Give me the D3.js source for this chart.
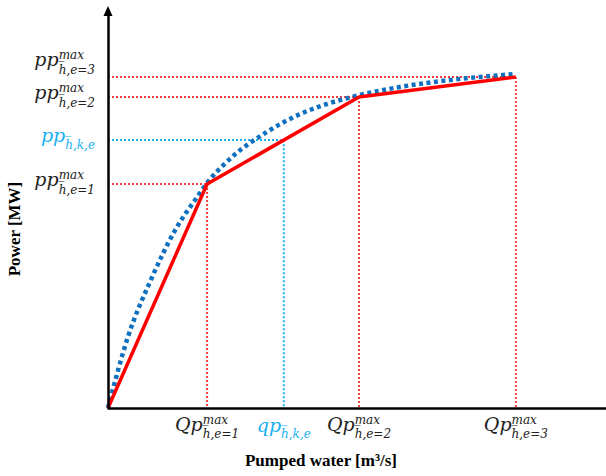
<!DOCTYPE html>
<html>
<head>
<meta charset="utf-8">
<script src="https://cdn.jsdelivr.net/npm/d3@7"></script>
<style>
  body { margin: 0; background: #fff; }
  svg { display: block; }
</style>
</head>
<body>
<div id="chart"></div>
<script>
// breakpoints of the piecewise linear approximation (percent of axis)
const breakQ = [19.9, 50.4, 81.9];
const breakP = [56.0, 77.75, 82.75];
const breakNames = ['e=1', 'e=2', 'e=3'];

const curveQ = [0, 4.0, 8.6, 13.5, 18.1, 19.9, 24.5, 31.9, 38.6, 44.6, 50.6, 58.6, 68.7, 81.9];
const curveP = [0, 17.75, 32.0, 44.5, 53.1, 56.25, 62.3, 69.0, 73.5, 76.25, 78.25, 80.25, 82.0, 83.5];

// operating point k
const opQ = 35.3;
const opP = 67.0;

const W = 606, H = 476;
const x = d3.scaleLinear().domain([0, 100]).range([108, 606]);
const y = d3.scaleLinear().domain([0, 100]).range([408, 8]);

const red = '#ff0000', redDot = '#ff3b3b', lightBlue = '#19b0f0', darkBlue = '#1070c0';
const mathFont = 'DejaVu Serif';

const svg = d3.select('#chart').append('svg')
  .attr('width', W).attr('height', H);

// guide lines
const guides = svg.append('g');
breakQ.forEach(function(q, i) {
  guides.append('line')
    .attr('x1', x(0)).attr('x2', x(q))
    .attr('y1', y(breakP[i])).attr('y2', y(breakP[i]));
  guides.append('line')
    .attr('x1', x(q)).attr('x2', x(q))
    .attr('y1', y(breakP[i])).attr('y2', y(0));
});
guides.selectAll('line')
  .attr('stroke', redDot).attr('stroke-width', 2)
  .attr('stroke-dasharray', '2,2');

svg.append('path')
  .attr('d', d3.line()([[x(0), y(opP)], [x(opQ), y(opP)], [x(opQ), y(0)]]))
  .attr('fill', 'none')
  .attr('stroke', lightBlue).attr('stroke-width', 2)
  .attr('stroke-dasharray', '2,2');

// curve
const curveData = curveQ.map(function(q, i) { return [q, curveP[i]]; });
svg.append('path')
  .datum(curveData)
  .attr('fill', 'none')
  .attr('stroke', darkBlue)
  .attr('stroke-width', 4.5)
  .attr('stroke-dasharray', '4,3.5')
  .attr('d', d3.line().x(function(d) { return x(d[0]); }).y(function(d) { return y(d[1]); }).curve(d3.curveMonotoneX));

// piecewise linear
const redData = [[0, 0]].concat(breakQ.map(function(q, i) { return [q, breakP[i]]; }));
svg.append('path')
  .datum(redData)
  .attr('fill', 'none')
  .attr('stroke', red)
  .attr('stroke-width', 3.5)
  .attr('stroke-linejoin', 'round')
  .attr('d', d3.line().x(function(d) { return x(d[0]); }).y(function(d) { return y(d[1]); }));

// axes
const xaxis = svg.append('g')
  .attr('transform', `translate(0, ${y(0)})`)
  .call(d3.axisBottom(x).tickValues([]).tickSizeOuter(0));
xaxis.select('.domain').attr('stroke-width', 2.5);

const yaxis = svg.append('g')
  .attr('transform', `translate(${x(0)}, 0)`)
  .call(d3.axisLeft(d3.scaleLinear().domain([0, 100]).range([y(0) + 1, 14])).tickValues([]).tickSizeOuter(0));
yaxis.select('.domain').attr('stroke-width', 2.5);

// arrow head at the top of the y axis
svg.append('path')
  .attr('d', `M${x(0) - 4.5},16 L${x(0)},6 L${x(0) + 4.5},16 Z`)
  .attr('fill', '#000');

// math labels: base + stacked superscript / subscript
function mathLabel(px, py, base, sup, sub, anchor, color, subDy) {
  const g = svg.append('g').attr('fill', color)
    .attr('font-family', mathFont).attr('font-style', 'italic');
  const t = g.append('text').attr('font-size', 19).text(base);
  const s1 = g.append('text').attr('font-size', 12).text(sup || '');
  const s2 = g.append('text').attr('font-size', 12).text(sub);
  const bw = t.node().getComputedTextLength();
  const w = bw + Math.max(s1.node().getComputedTextLength(), s2.node().getComputedTextLength());
  const x0 = anchor === 'end' ? px - w : px - w / 2;
  t.attr('x', x0).attr('y', py);
  s1.attr('x', x0 + bw).attr('y', py - 7);
  s2.attr('x', x0 + bw).attr('y', py + subDy);
}

const yBase = [y(breakP[0]) + 2, y(breakP[1]) + 2, y(breakP[2]) - 11];
breakNames.forEach(function(n, i) {
  mathLabel(95, yBase[i], 'pp', 'max', 'h\u0305,' + n, 'end', '#222', 8);
  mathLabel(x(breakQ[i]), 431, 'Qp', 'max', 'h\u0305,' + n, 'middle', '#222', 7);
});
mathLabel(95, y(opP) + 2, 'pp', '', 'h\u0305,k,e', 'end', lightBlue, 7);
mathLabel(x(opQ), 432, 'qp', '', 'h\u0305,k,e', 'middle', lightBlue, 6);

// axis titles
svg.append('text')
  .attr('x', 321).attr('y', 466)
  .attr('text-anchor', 'middle')
  .attr('font-family', 'Liberation Serif').attr('font-weight', 'bold').attr('font-size', 17)
  .text('Pumped water [m³/s]');

svg.append('text')
  .attr('transform', 'translate(20, 229) rotate(-90)')
  .attr('text-anchor', 'middle')
  .attr('font-family', 'Liberation Serif').attr('font-weight', 'bold').attr('font-size', 17)
  .text('Power [MW]');
</script>
</body>
</html>
